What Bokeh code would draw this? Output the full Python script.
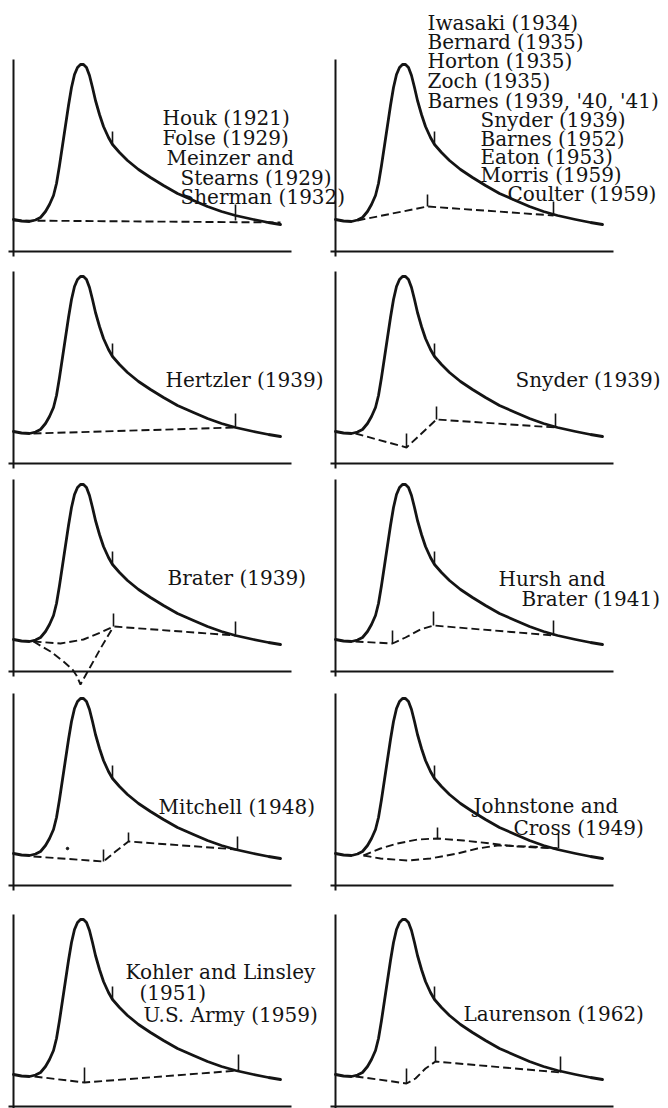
from bokeh.plotting import figure
from bokeh.core.properties import value
from bokeh.embed import file_html
from bokeh.resources import INLINE

# ---------------- data (time t, discharge q; q = 0 on the time axis) ----------------
HYDRO_T = [0, 8, 16, 22, 27, 32, 36, 40, 43, 46, 49, 52, 55, 58, 61, 64, 67, 70, 73, 76,
           79, 82, 86, 90, 95, 99, 106, 114, 125, 137, 150, 164, 180, 194, 208, 222, 240, 255, 267]
HYDRO_Q = [32, 30.5, 30, 31.5, 34, 40, 47, 56, 68, 86, 106, 126, 146, 164, 177, 184, 187, 187, 184, 176,
           164, 151, 137, 125, 114, 107, 99, 91, 82, 74, 66, 58, 51, 45, 40, 36, 32, 29, 27]

RECESSION_TICK_T = 99
RECESSION_TICK_Q = [107, 120]

AXIS_T = [-5, 278]
AXIS_Q = [-5, 192]

# separation lines: list of (t-list, q-list)
SEP_HOUK = [([0, 267], [31, 29])]
SEP_IWASAKI = [([22, 92, 218], [31, 45, 36])]
SEP_HERTZLER = [([20, 222], [30, 36])]
SEP_SNYDER = [([20, 71, 101, 220], [30, 16, 44, 36])]
SEP_BRATER = [([20, 47, 70, 87, 100, 222], [30, 28, 32, 39, 45, 36]),
              ([20, 37, 50, 59, 63, 67, 77, 87, 100], [30, 20, 10, 2, -4, -13, 5, 23, 45])]
SEP_HURSH = [([20, 57, 70, 85, 98, 218], [30, 28, 34, 42, 46, 36])]
SEP_MITCHELL = [([20, 90, 102, 115, 224], [29, 24, 34, 44, 36])]
SEP_JOHNSTONE = [([28, 45, 62, 82, 102, 128, 155, 182, 222], [30, 37, 42, 46, 47, 45, 42, 39, 37]),
                 ([28, 45, 72, 95, 122, 142, 162, 195, 222], [30, 27, 25, 27, 32, 37, 40, 39, 37])]
SEP_KOHLER = [([21, 71, 225], [30, 24, 36])]
SEP_LAURENSON = [([20, 43, 71, 80, 90, 100, 225], [30, 27, 23, 28, 38, 45, 34])]

# marks: t, q at foot, q at top
TICK_HOUK = ([222], [31], [47])
TICK_IWASAKI = ([92, 218], [45, 36], [57, 50])
TICK_HERTZLER = ([222], [36], [50])
TICK_SNYDER = ([71, 101, 220], [16, 44, 36], [30, 57, 50])
TICK_BRATER = ([100, 222], [45, 36], [58, 50])
TICK_HURSH = ([57, 98, 218], [28, 46, 36], [41, 60, 51])
TICK_MITCHELL = ([90, 115, 224], [24, 44, 36], [36, 53, 49])
TICK_JOHNSTONE = ([102, 223], [47, 37], [58, 52])
TICK_KOHLER = ([71, 225], [24, 36], [39, 52])
TICK_LAURENSON = ([71, 100, 225], [23, 45, 34], [38, 60, 50])

LABELS_HOUK = ["Houk (1921)", "Folse (1929)", "Meinzer and", "Stearns (1929)", "Sherman (1932)"]
LABELS_IWASAKI = ["Iwasaki (1934)", "Bernard (1935)", "Horton (1935)", "Zoch (1935)",
                  "Barnes (1939, '40, '41)", "Snyder (1939)", "Barnes (1952)", "Eaton (1953)",
                  "Morris (1959)", "Coulter (1959)"]
LABELS_HERTZLER = ["Hertzler (1939)"]
LABELS_SNYDER = ["Snyder (1939)"]
LABELS_BRATER = ["Brater (1939)"]
LABELS_HURSH = ["Hursh and", "Brater (1941)"]
LABELS_MITCHELL = ["Mitchell (1948)"]
LABELS_JOHNSTONE = ["Johnstone and", "Cross (1949)"]
LABELS_KOHLER = ["Kohler and Linsley", "(1951)", "U.S. Army (1959)"]
LABELS_LAURENSON = ["Laurenson (1962)"]

STRAY_DOT_MITCHELL = ([54], [37])

# ---------------- layout (positions / styles) ----------------
W, H = 668, 1108
COL_X0 = [13, 335]
ROW_Y0 = [857, 645, 437, 223, 2]

LABEL_POS = {
    "houk": ([149, 149, 153, 167, 167], [134, 114, 94, 74, 55]),
    "iwasaki": ([92, 92, 92, 92, 92, 145, 145, 145, 145, 172],
                [229, 210, 191, 171, 151, 132, 113, 95, 77, 58]),
    "hertzler": ([152], [84]),
    "snyder": ([180], [84]),
    "brater": ([154], [94]),
    "hursh": ([163, 186], [93, 73]),
    "mitchell": ([145], [79]),
    "johnstone": ([138, 178], [80, 58]),
    "kohler": ([112, 126, 130], [135, 114, 92]),
    "laurenson": ([128], [93]),
}

PANELS = [
    ("houk", 0, 0, SEP_HOUK, TICK_HOUK, LABELS_HOUK),
    ("iwasaki", 1, 0, SEP_IWASAKI, TICK_IWASAKI, LABELS_IWASAKI),
    ("hertzler", 0, 1, SEP_HERTZLER, TICK_HERTZLER, LABELS_HERTZLER),
    ("snyder", 1, 1, SEP_SNYDER, TICK_SNYDER, LABELS_SNYDER),
    ("brater", 0, 2, SEP_BRATER, TICK_BRATER, LABELS_BRATER),
    ("hursh", 1, 2, SEP_HURSH, TICK_HURSH, LABELS_HURSH),
    ("mitchell", 0, 3, SEP_MITCHELL, TICK_MITCHELL, LABELS_MITCHELL),
    ("johnstone", 1, 3, SEP_JOHNSTONE, TICK_JOHNSTONE, LABELS_JOHNSTONE),
    ("kohler", 0, 4, SEP_KOHLER, TICK_KOHLER, LABELS_KOHLER),
    ("laurenson", 1, 4, SEP_LAURENSON, TICK_LAURENSON, LABELS_LAURENSON),
]

INK = "#141414"
FONT = "DejaVu Serif"

p = figure(width=W, height=H, x_range=(0, W), y_range=(0, H),
           output_backend="svg", toolbar_location=None, min_border=0)
p.axis.visible = False
p.grid.visible = False
p.outline_line_color = None
p.background_fill_color = "white"

for name, col, row, seps, ticks, labels in PANELS:
    x0, y0 = COL_X0[col], ROW_Y0[row]
    # axes
    p.line([x0 + AXIS_T[0], x0 + AXIS_T[1]], [y0, y0], line_color=INK, line_width=2.2)
    p.line([x0, x0], [y0 + AXIS_Q[0], y0 + AXIS_Q[1]], line_color=INK, line_width=2)
    # hydrograph
    p.line([x0 + t for t in HYDRO_T], [y0 + q for q in HYDRO_Q],
           line_color=INK, line_width=2.8, line_join="round", line_cap="round")
    # recession mark
    p.segment(x0=[x0 + RECESSION_TICK_T], y0=[y0 + RECESSION_TICK_Q[0]],
              x1=[x0 + RECESSION_TICK_T], y1=[y0 + RECESSION_TICK_Q[1]],
              line_color=INK, line_width=1.6)
    # separation lines
    for ts, qs in seps:
        p.line([x0 + t for t in ts], [y0 + q for q in qs], line_color=INK,
               line_width=1.9, line_dash="8 4")
    # marks
    tt, qb, qt = ticks
    p.segment(x0=[x0 + t for t in tt], y0=[y0 + q for q in qb],
              x1=[x0 + t for t in tt], y1=[y0 + q for q in qt],
              line_color=INK, line_width=1.6)
    # labels
    lt, lq = LABEL_POS[name]
    p.text(x=[x0 + t for t in lt], y=[y0 + q for q in lq], text=labels,
           text_font=value(FONT), text_font_size="20px", text_color=INK,
           text_align="left", text_baseline="middle")

# small speck in Mitchell panel
p.scatter([COL_X0[0] + t for t in STRAY_DOT_MITCHELL[0]],
          [ROW_Y0[3] + q for q in STRAY_DOT_MITCHELL[1]],
          size=2.5, color=INK)

open("out.html", "w").write(file_html(p, INLINE))
